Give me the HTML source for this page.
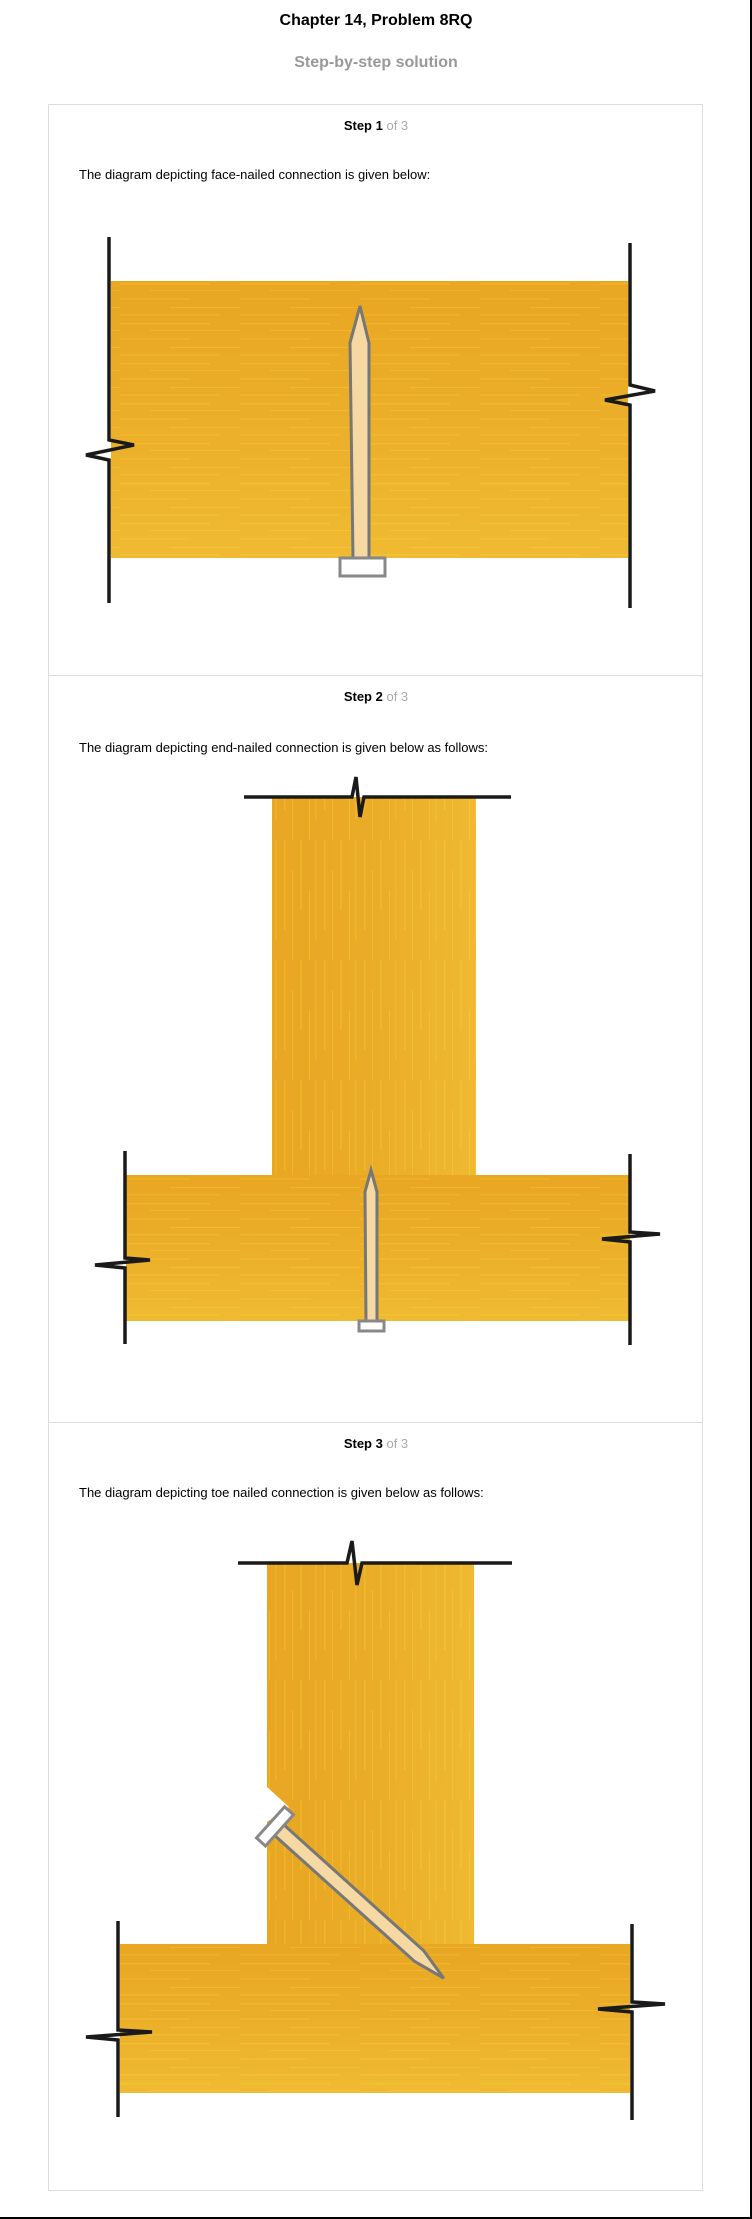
<!DOCTYPE html>
<html><head><meta charset="utf-8"><style>
body{margin:0;width:752px;height:2219px;background:#fff;position:relative;font-family:"Liberation Sans",Arial,sans-serif;overflow:hidden}
.t{position:absolute;white-space:nowrap}
#frame{position:absolute;left:0;top:0;width:750px;height:2217px;border-right:2px solid #000;border-bottom:2px solid #000}
</style></head><body>
<div id="frame"></div>
<div class="t" style="left:0;width:752px;text-align:center;top:12px;font-size:16px;font-weight:bold;color:#000">Chapter 14, Problem 8RQ</div>
<div class="t" style="left:0;width:752px;text-align:center;top:54px;font-size:16px;font-weight:bold;color:#999">Step-by-step solution</div>
<svg width="752" height="2219" style="position:absolute;left:0;top:0">
<defs>
<pattern id="wh" width="120" height="40" patternUnits="userSpaceOnUse">
<rect width="120" height="40" fill="#eaaa24"/>
<rect y="3" width="90" height="1.5" fill="#f3c431" opacity=".7"/>
<rect x="30" y="10" width="90" height="1" fill="#f6cc3a" opacity=".6"/>
<rect y="18" width="70" height="2" fill="#efb82a" opacity=".8"/>
<rect x="50" y="27" width="70" height="1" fill="#f6cc3a" opacity=".6"/>
<rect y="34" width="100" height="1.5" fill="#f1bf2e" opacity=".7"/>
</pattern>
<pattern id="wv" width="40" height="120" patternUnits="userSpaceOnUse">
<rect width="40" height="120" fill="#e9a824"/>
<rect x="4" width="1.5" height="90" fill="#f3c431" opacity=".7"/>
<rect x="12" y="30" width="1" height="90" fill="#f6cc3a" opacity=".6"/>
<rect x="20" width="2" height="70" fill="#efb82a" opacity=".8"/>
<rect x="29" y="50" width="1" height="70" fill="#f6cc3a" opacity=".6"/>
<rect x="35" width="1.5" height="100" fill="#f1bf2e" opacity=".7"/>
</pattern>
<linearGradient id="gh" x1="0" y1="0" x2="0" y2="1"><stop offset="0" stop-color="#e6a020" stop-opacity=".3"/><stop offset="1" stop-color="#f5cc40" stop-opacity=".5"/></linearGradient>
<linearGradient id="gv" x1="0" y1="0" x2="1" y2="0"><stop offset="0" stop-color="#e6a020" stop-opacity=".2"/><stop offset="1" stop-color="#f5cc40" stop-opacity=".5"/></linearGradient>
</defs>
<rect x="48.5" y="104.5" width="654" height="2086" fill="none" stroke="#ddd"/>
<line x1="49" y1="675.5" x2="702" y2="675.5" stroke="#ddd"/>
<line x1="49" y1="1422.5" x2="702" y2="1422.5" stroke="#ddd"/>

<g>
<rect x="111" y="281" width="517" height="277" fill="url(#wh)"/>
<rect x="111" y="281" width="517" height="277" fill="url(#gh)"/>
<polyline points="109,237 109,440 134,445 86,455 109,460 109,603" fill="none" stroke="#1a1a1a" stroke-width="3.5"/>
<polyline points="630,243 630,385 655,391 605,400 630,405 630,608" fill="none" stroke="#1a1a1a" stroke-width="3.5"/>
<polygon points="360,306 369,343 369,558 353,558 350,343" fill="#f6d9a2" stroke="#777" stroke-width="3"/>
<rect x="340" y="558" width="45" height="18" fill="#fff" stroke="#888" stroke-width="3"/>
</g>

<g>
<rect x="272" y="797" width="204" height="380" fill="url(#wv)"/>
<rect x="272" y="797" width="204" height="380" fill="url(#gv)"/>
<rect x="126" y="1175" width="504" height="146" fill="url(#wh)"/>
<rect x="126" y="1175" width="504" height="146" fill="url(#gh)"/>
<polyline points="244,797 352,797 356,777 360,817 364,797 511,797" fill="none" stroke="#1a1a1a" stroke-width="3.5"/>
<polyline points="125,1151 125,1258 150,1260 95,1265 125,1268 125,1344" fill="none" stroke="#1a1a1a" stroke-width="3.5"/>
<polyline points="630,1154 630,1232 660,1234 602,1239 630,1242 630,1345" fill="none" stroke="#1a1a1a" stroke-width="3.5"/>
<polygon points="371,1170 377,1192 377,1321 366,1321 365,1192" fill="#f6d9a2" stroke="#777" stroke-width="3"/>
<rect x="359" y="1321" width="25" height="10" fill="#fff" stroke="#888" stroke-width="3"/>
</g>

<g>
<polygon points="267,1563 474,1563 474,1944 267,1944 267,1822 289,1807 267,1787" fill="url(#wv)"/>
<polygon points="267,1563 474,1563 474,1944 267,1944 267,1822 289,1807 267,1787" fill="url(#gv)"/>
<rect x="120" y="1944" width="510" height="149" fill="url(#wh)"/>
<rect x="120" y="1944" width="510" height="149" fill="url(#gh)"/>
<polyline points="238,1563 347,1563 352,1541 357,1585 362,1563 512,1563" fill="none" stroke="#1a1a1a" stroke-width="3.5"/>
<polyline points="118,1921 118,2030 152,2032 86,2037 118,2040 118,2117" fill="none" stroke="#1a1a1a" stroke-width="3.5"/>
<polyline points="632,1924 632,2002 665,2004 598,2009 632,2012 632,2120" fill="none" stroke="#1a1a1a" stroke-width="3.5"/>
<g transform="translate(278,1829) rotate(42)">
<polygon points="0,-7 190,-7 223,0 190,7 0,7" fill="#f6d9a2" stroke="#777" stroke-width="3"/>
<rect x="-10" y="-21" width="12" height="42" fill="#fff" stroke="#888" stroke-width="3"/>
</g>
</g>
</svg>

<div class="t" style="left:0;width:752px;text-align:center;top:118px;font-size:13px"><b>Step 1</b> <span style="color:#aaa">of 3</span></div>
<div class="t" style="left:79px;top:167px;font-size:13px">The diagram depicting face-nailed connection is given below:</div>
<div class="t" style="left:0;width:752px;text-align:center;top:689px;font-size:13px"><b>Step 2</b> <span style="color:#aaa">of 3</span></div>
<div class="t" style="left:79px;top:740px;font-size:13px">The diagram depicting end-nailed connection is given below as follows:</div>
<div class="t" style="left:0;width:752px;text-align:center;top:1436px;font-size:13px"><b>Step 3</b> <span style="color:#aaa">of 3</span></div>
<div class="t" style="left:79px;top:1485px;font-size:13px">The diagram depicting toe nailed connection is given below as follows:</div>
</body></html>
